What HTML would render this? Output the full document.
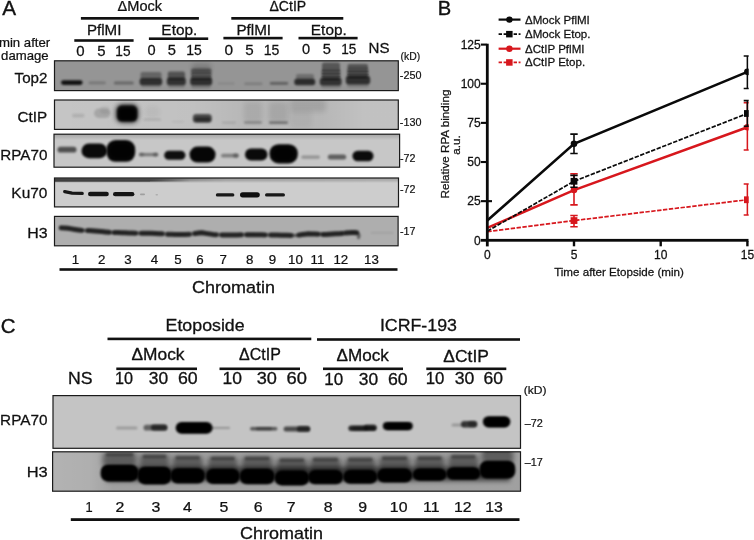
<!DOCTYPE html>
<html><head><meta charset="utf-8"><title>Figure</title>
<style>
html,body{margin:0;padding:0;background:#fff;}
body{width:754px;height:540px;overflow:hidden;font-family:"Liberation Sans", sans-serif;}
svg{display:block;font-family:"Liberation Sans", sans-serif;will-change:transform;}
text{stroke:#111;}
</style></head>
<body>
<svg width="754" height="540" viewBox="0 0 754 540">
<defs>
<filter id="b1" filterUnits="userSpaceOnUse" x="0" y="0" width="754" height="540"><feGaussianBlur stdDeviation="0.7"/></filter>
<filter id="b2" filterUnits="userSpaceOnUse" x="0" y="0" width="754" height="540"><feGaussianBlur stdDeviation="1.3"/></filter>
<filter id="b3" filterUnits="userSpaceOnUse" x="0" y="0" width="754" height="540"><feGaussianBlur stdDeviation="2.4"/></filter>
<linearGradient id="gTop" x1="0" y1="0" x2="0" y2="1"><stop offset="0" stop-color="#000" stop-opacity="0.35"/><stop offset="1" stop-color="#000" stop-opacity="0"/></linearGradient>
<linearGradient id="gKuH" x1="0" y1="0" x2="1" y2="0"><stop offset="0" stop-color="#000" stop-opacity="0.55"/><stop offset="0.3" stop-color="#000" stop-opacity="0.5"/><stop offset="0.5" stop-color="#000" stop-opacity="0.25"/><stop offset="1" stop-color="#000" stop-opacity="0.2"/></linearGradient>
<linearGradient id="gCt" x1="0" y1="0" x2="1" y2="0"><stop offset="0" stop-color="#000" stop-opacity="0"/><stop offset="0.4" stop-color="#000" stop-opacity="0.02"/><stop offset="0.55" stop-color="#000" stop-opacity="0.07"/><stop offset="0.78" stop-color="#000" stop-opacity="0.07"/><stop offset="0.9" stop-color="#000" stop-opacity="0.02"/><stop offset="1" stop-color="#000" stop-opacity="0.02"/></linearGradient>
<mask id="mKu"><rect x="54" y="178" width="346" height="5" fill="url(#gTopW)"/></mask>
<linearGradient id="gTopW" x1="0" y1="0" x2="0" y2="1"><stop offset="0" stop-color="#fff" stop-opacity="1"/><stop offset="0.5" stop-color="#fff" stop-opacity="0.7"/><stop offset="1" stop-color="#fff" stop-opacity="0"/></linearGradient>
<linearGradient id="gFade" x1="0" y1="0" x2="1" y2="0"><stop offset="0" stop-color="#000" stop-opacity="1"/><stop offset="1" stop-color="#000" stop-opacity="0"/></linearGradient>
<linearGradient id="gH3C" x1="0" y1="0" x2="1" y2="0"><stop offset="0" stop-color="#000" stop-opacity="0.03"/><stop offset="0.08" stop-color="#000" stop-opacity="0.05"/><stop offset="0.13" stop-color="#000" stop-opacity="0.13"/><stop offset="1" stop-color="#000" stop-opacity="0.13"/></linearGradient>
</defs>
<rect width="754" height="540" fill="#fff"/>
<text transform="translate(2.3,14.9) scale(1.0588,1)" font-size="19.6" stroke-width="0.353" fill="#111">A</text>
<text transform="translate(437.69,15.2) scale(1.0195,1)" font-size="19.8" stroke-width="0.356" fill="#111">B</text>
<text transform="translate(117.56,10.9) scale(1.0488,1)" font-size="13.9" stroke-width="0.25" fill="#111">&#916;Mock</text>
<rect x="80.9" y="17" width="118.0" height="2.7" fill="#111"/>
<text transform="translate(269.48,10.9) scale(1.0123,1)" font-size="13.9" stroke-width="0.25" fill="#111">&#916;CtIP</text>
<rect x="231.3" y="17" width="112.0" height="2.7" fill="#111"/>
<text transform="translate(86.89,35) scale(1.0597,1)" font-size="14.3" stroke-width="0.257" fill="#111">PflMI</text>
<rect x="74.3" y="39.2" width="59.3" height="2.6" fill="#111"/>
<text transform="translate(161.37,35) scale(1.0781,1)" font-size="14.3" stroke-width="0.257" fill="#111">Etop.</text>
<rect x="148.9" y="37.4" width="59.3" height="2.6" fill="#111"/>
<text transform="translate(236.38,35) scale(1.0664,1)" font-size="14.3" stroke-width="0.257" fill="#111">PflMI</text>
<rect x="223.4" y="36.8" width="59.2" height="2.6" fill="#111"/>
<text transform="translate(310.87,35) scale(1.0749,1)" font-size="14.3" stroke-width="0.257" fill="#111">Etop.</text>
<rect x="298.5" y="36.8" width="59.1" height="2.6" fill="#111"/>
<text transform="translate(76.2,56) scale(1.049,1)" font-size="14.3" stroke-width="0.257" fill="#111">0</text>
<text transform="translate(97.3,56) scale(1.0453,1)" font-size="14.3" stroke-width="0.257" fill="#111">5</text>
<text transform="translate(115.37,56) scale(0.9558,1)" font-size="14.3" stroke-width="0.257" fill="#111">15</text>
<text transform="translate(147.52,54.9) scale(1.0198,1)" font-size="14.3" stroke-width="0.257" fill="#111">0</text>
<text transform="translate(167.81,54.9) scale(1.0305,1)" font-size="14.3" stroke-width="0.257" fill="#111">5</text>
<text transform="translate(186.25,54.9) scale(0.9769,1)" font-size="14.3" stroke-width="0.257" fill="#111">15</text>
<text transform="translate(224.38,54.9) scale(1.0781,1)" font-size="14.3" stroke-width="0.257" fill="#111">0</text>
<text transform="translate(245.29,54.9) scale(1.06,1)" font-size="14.3" stroke-width="0.257" fill="#111">5</text>
<text transform="translate(263.64,54.9) scale(0.9839,1)" font-size="14.3" stroke-width="0.257" fill="#111">15</text>
<text transform="translate(301.92,53.8) scale(1.0198,1)" font-size="14.3" stroke-width="0.257" fill="#111">0</text>
<text transform="translate(322.81,53.8) scale(1.0305,1)" font-size="14.3" stroke-width="0.257" fill="#111">5</text>
<text transform="translate(341.28,53.8) scale(0.9488,1)" font-size="14.3" stroke-width="0.257" fill="#111">15</text>
<text transform="translate(368.59,53.4) scale(1.0545,1)" font-size="14.3" stroke-width="0.257" fill="#111">NS</text>
<text transform="translate(-1.06,46.7) scale(1.0149,1)" font-size="13" stroke-width="0.234" fill="#111">min after</text>
<text transform="translate(1.07,59.7) scale(1.0133,1)" font-size="13" stroke-width="0.234" fill="#111">damage</text>
<text transform="translate(400.57,60) scale(1.0024,1)" font-size="10.4" stroke-width="0.187" fill="#111">(kD)</text>
<text transform="translate(14.6,82.9) scale(1.0468,1)" font-size="14.5" stroke-width="0.261" fill="#111">Top2</text>
<text transform="translate(17.54,122) scale(1.0688,1)" font-size="14.3" stroke-width="0.257" fill="#111">CtIP</text>
<text transform="translate(0.28,160) scale(1.0654,1)" font-size="14.3" stroke-width="0.257" fill="#111">RPA70</text>
<text transform="translate(11.36,198.1) scale(1.0805,1)" font-size="14.3" stroke-width="0.257" fill="#111">Ku70</text>
<text transform="translate(27.23,238.2) scale(1.114,1)" font-size="14.3" stroke-width="0.257" fill="#111">H3</text>
<text transform="translate(399.81,79.2) scale(1.0621,1)" font-size="10.2" stroke-width="0.184" fill="#111">-250</text>
<text transform="translate(399.81,125.6) scale(1.0621,1)" font-size="10.2" stroke-width="0.184" fill="#111">-130</text>
<text transform="translate(400.02,161.8) scale(1.053,1)" font-size="10.2" stroke-width="0.184" fill="#111">-72</text>
<text transform="translate(400.02,193) scale(1.053,1)" font-size="10.2" stroke-width="0.184" fill="#111">-72</text>
<text transform="translate(400.02,234.8) scale(1.053,1)" font-size="10.2" stroke-width="0.184" fill="#111">-17</text>
<text x="75.4" y="263.7" font-size="13.3" stroke-width="0.239" text-anchor="middle" fill="#111" >1</text>
<text x="101.6" y="263.7" font-size="13.3" stroke-width="0.239" text-anchor="middle" fill="#111" >2</text>
<text x="128" y="263.7" font-size="13.3" stroke-width="0.239" text-anchor="middle" fill="#111" >3</text>
<text x="154.4" y="263.7" font-size="13.3" stroke-width="0.239" text-anchor="middle" fill="#111" >4</text>
<text x="178" y="263.7" font-size="13.3" stroke-width="0.239" text-anchor="middle" fill="#111" >5</text>
<text x="200" y="263.7" font-size="13.3" stroke-width="0.239" text-anchor="middle" fill="#111" >6</text>
<text x="223.3" y="263.7" font-size="13.3" stroke-width="0.239" text-anchor="middle" fill="#111" >7</text>
<text x="249.6" y="263.7" font-size="13.3" stroke-width="0.239" text-anchor="middle" fill="#111" >8</text>
<text x="272.5" y="263.7" font-size="13.3" stroke-width="0.239" text-anchor="middle" fill="#111" >9</text>
<text x="295.4" y="263.7" font-size="13.3" stroke-width="0.239" text-anchor="middle" fill="#111" >10</text>
<text x="317.5" y="263.7" font-size="13.3" stroke-width="0.239" text-anchor="middle" fill="#111" >11</text>
<text x="340.8" y="263.7" font-size="13.3" stroke-width="0.239" text-anchor="middle" fill="#111" >12</text>
<text x="371.5" y="263.7" font-size="13.3" stroke-width="0.239" text-anchor="middle" fill="#111" >13</text>
<rect x="59.5" y="268.2" width="338.0" height="2.6" fill="#111"/>
<text transform="translate(192.1,292.9) scale(1.0574,1)" font-size="17" stroke-width="0.306" fill="#111">Chromatin</text>
<clipPath id="cA1"><rect x="54.5" y="60.8" width="343.8" height="29.8"/></clipPath>
<rect x="54.5" y="60.8" width="343.8" height="29.8" fill="#959595"/>
<g clip-path="url(#cA1)">
<rect x="61" y="80.2" width="21.6" height="4.8" rx="2.4" fill="#000" opacity="0.88" filter="url(#b2)"/>
<rect x="88.6" y="81.6" width="17.2" height="2.6" rx="1.3" fill="#000" opacity="0.2" filter="url(#b2)"/>
<rect x="113.8" y="81.4" width="20.0" height="3.0" rx="1.5" fill="#000" opacity="0.3" filter="url(#b2)"/>
<rect x="140.5" y="72" width="21.0" height="8" rx="2" fill="#000" opacity="0.32" filter="url(#b2)"/>
<rect x="139.6" y="78.2" width="22.6" height="7.0" rx="2.6" fill="#000" opacity="0.68" filter="url(#b2)"/>
<rect x="141" y="84" width="20" height="3.5" rx="1.75" fill="#000" opacity="0.15" filter="url(#b2)"/>
<rect x="167.8" y="71.5" width="17.2" height="8.5" rx="2" fill="#000" opacity="0.45" filter="url(#b2)"/>
<rect x="166.8" y="77.8" width="19.0" height="7.4" rx="2.6" fill="#000" opacity="0.66" filter="url(#b2)"/>
<rect x="168" y="84" width="17" height="4" rx="2.0" fill="#000" opacity="0.15" filter="url(#b2)"/>
<rect x="192" y="63.5" width="19" height="8.5" rx="3" fill="#000" opacity="0.16" filter="url(#b3)"/>
<rect x="191" y="68.5" width="20.5" height="11.5" rx="2" fill="#000" opacity="0.44" filter="url(#b2)"/>
<rect x="192" y="72.6" width="19" height="1.2" rx="0.6" fill="#000" opacity="0.08" filter="url(#b1)"/>
<rect x="192" y="75.6" width="19" height="1.2" rx="0.6" fill="#000" opacity="0.08" filter="url(#b1)"/>
<rect x="190.2" y="77.8" width="22.0" height="7.4" rx="2.6" fill="#000" opacity="0.68" filter="url(#b2)"/>
<rect x="191" y="84" width="20" height="4.5" rx="2.25" fill="#000" opacity="0.18" filter="url(#b2)"/>
<rect x="218" y="82.6" width="16.5" height="2.0" rx="1.0" fill="#000" opacity="0.1" filter="url(#b2)"/>
<rect x="244.2" y="82.6" width="18.3" height="2.4" rx="1.2" fill="#000" opacity="0.16" filter="url(#b2)"/>
<rect x="269.8" y="82" width="18.4" height="2.8" rx="1.4" fill="#000" opacity="0.36" filter="url(#b2)"/>
<rect x="296" y="74" width="18" height="6" rx="2" fill="#000" opacity="0.25" filter="url(#b2)"/>
<rect x="294.3" y="78.8" width="20.9" height="6.4" rx="2.6" fill="#000" opacity="0.7" filter="url(#b2)"/>
<rect x="322" y="62.5" width="18" height="17.5" rx="2" fill="#000" opacity="0.42" filter="url(#b2)"/>
<rect x="321" y="69" width="20" height="11" rx="2" fill="#000" opacity="0.16" filter="url(#b2)"/>
<rect x="322" y="69.6" width="18.4" height="1.2" rx="0.6" fill="#000" opacity="0.08" filter="url(#b1)"/>
<rect x="321.6" y="73" width="19.0" height="1.2" rx="0.6" fill="#000" opacity="0.08" filter="url(#b1)"/>
<rect x="321.4" y="76" width="19.4" height="1.2" rx="0.6" fill="#000" opacity="0.08" filter="url(#b1)"/>
<rect x="319.8" y="78" width="21.8" height="7.4" rx="2.6" fill="#000" opacity="0.66" filter="url(#b2)"/>
<rect x="321" y="84" width="20" height="4.5" rx="2.25" fill="#000" opacity="0.15" filter="url(#b2)"/>
<rect x="347.5" y="64" width="20.5" height="14" rx="2" fill="#000" opacity="0.44" filter="url(#b2)"/>
<rect x="346.8" y="68.5" width="22.2" height="9.5" rx="2" fill="#000" opacity="0.16" filter="url(#b2)"/>
<rect x="348" y="67.4" width="20" height="1.2" rx="0.6" fill="#000" opacity="0.08" filter="url(#b1)"/>
<rect x="347.4" y="70.8" width="21.2" height="1.2" rx="0.6" fill="#000" opacity="0.08" filter="url(#b1)"/>
<rect x="347" y="73.8" width="22" height="1.2" rx="0.6" fill="#000" opacity="0.08" filter="url(#b1)"/>
<rect x="345.8" y="76" width="24.4" height="8.4" rx="2.8" fill="#000" opacity="0.68" filter="url(#b2)"/>
<rect x="347" y="83.5" width="22" height="4.0" rx="2.0" fill="#000" opacity="0.15" filter="url(#b2)"/>

</g>
<rect x="54.5" y="60.8" width="343.8" height="29.8" fill="none" stroke="#1a1a1a" stroke-width="1.2"/>
<clipPath id="cA2"><rect x="54.5" y="100" width="343.8" height="29.4"/></clipPath>
<rect x="54.5" y="100" width="343.8" height="29.4" fill="#c5c5c5"/>
<g clip-path="url(#cA2)"><rect x="54" y="100" width="345" height="30" fill="url(#gCt)"/>
<rect x="72" y="113.8" width="12.5" height="3.6" rx="1.8" fill="#000" opacity="0.1" filter="url(#b2)"/>
<rect x="94" y="108.5" width="16.5" height="9.5" rx="4.75" fill="#000" opacity="0.15" filter="url(#b2)"/>
<rect x="100" y="106" width="10" height="8" rx="4.0" fill="#000" opacity="0.06" filter="url(#b2)"/>
<rect x="116" y="104.6" width="22.2" height="18.0" rx="6" fill="#000" opacity="0.8" filter="url(#b3)"/>
<rect x="117.2" y="105.6" width="20.0" height="16.0" rx="5" fill="#000" opacity="0.8" filter="url(#b2)"/>
<rect x="119" y="108.5" width="16.5" height="11.5" rx="4" fill="#000" opacity="0.8" filter="url(#b2)"/>
<rect x="143.5" y="118.8" width="17.5" height="1.8" rx="0.9" fill="#000" opacity="0.13" filter="url(#b2)"/>
<rect x="145" y="106" width="15" height="12" rx="6.0" fill="#000" opacity="0.04" filter="url(#b3)"/>
<rect x="172" y="121" width="12" height="1.4" rx="0.7" fill="#000" opacity="0.06" filter="url(#b2)"/>
<rect x="192.8" y="114" width="19.0" height="8.8" rx="3.5" fill="#000" opacity="0.6" filter="url(#b2)"/>
<rect x="194.5" y="117.2" width="16.0" height="4.4" rx="2.2" fill="#000" opacity="0.45" filter="url(#b2)"/>
<rect x="222" y="121.8" width="14" height="1.6" rx="0.8" fill="#000" opacity="0.12" filter="url(#b2)"/>
<rect x="244" y="121.6" width="18" height="2.0" rx="1.0" fill="#000" opacity="0.3" filter="url(#b2)"/>
<rect x="244" y="102" width="18" height="20" rx="3" fill="#000" opacity="0.07" filter="url(#b3)"/>
<rect x="269" y="121.4" width="19" height="2.4" rx="1.2" fill="#000" opacity="0.42" filter="url(#b2)"/>
<rect x="269" y="102" width="19" height="20" rx="3" fill="#000" opacity="0.09" filter="url(#b3)"/>
<rect x="290" y="99" width="36" height="13" rx="4" fill="#000" opacity="0.1" filter="url(#b3)"/>
<rect x="290" y="110" width="22" height="18" rx="4" fill="#000" opacity="0.04" filter="url(#b3)"/>

</g>
<rect x="54.5" y="100" width="343.8" height="29.4" fill="none" stroke="#1a1a1a" stroke-width="1.2"/>
<clipPath id="cA3"><rect x="54" y="134.2" width="345.6" height="33"/></clipPath>
<rect x="54" y="134.2" width="345.6" height="33" fill="#c7c7c7"/>
<g clip-path="url(#cA3)"><rect x="54" y="134" width="346" height="6" fill="url(#gTop)" opacity="0.5"/>
<rect x="57.5" y="146.8" width="19.0" height="5.8" rx="2.9" fill="#000" opacity="0.6" filter="url(#b2)"/>
<rect x="81.5" y="143.6" width="25.7" height="14.6" rx="7.3" fill="#000" opacity="0.95" filter="url(#b2)"/>
<rect x="106.5" y="140" width="28.7" height="21.8" rx="9" fill="#000" opacity="0.97" filter="url(#b2)"/>
<rect x="110" y="144" width="22" height="14" rx="6" fill="#000" opacity="0.6" filter="url(#b2)"/>
<rect x="139" y="153" width="19" height="3.2" rx="1.6" fill="#000" opacity="0.38" filter="url(#b2)"/>
<rect x="139" y="152.4" width="5" height="4.2" rx="2.1" fill="#000" opacity="0.2" filter="url(#b2)"/>
<rect x="153" y="152.6" width="5.4" height="4.2" rx="2.1" fill="#000" opacity="0.25" filter="url(#b2)"/>
<rect x="164.2" y="150.8" width="21.2" height="9.0" rx="4.5" fill="#000" opacity="0.92" filter="url(#b2)"/>
<rect x="189.5" y="146.6" width="26.1" height="16.0" rx="8.0" fill="#000" opacity="0.97" filter="url(#b2)"/>
<rect x="221" y="153.8" width="17.6" height="3.8" rx="1.9" fill="#000" opacity="0.36" filter="url(#b2)"/>
<rect x="233" y="153.2" width="5.8" height="4.8" rx="2.4" fill="#000" opacity="0.25" filter="url(#b2)"/>
<rect x="245" y="148.6" width="22.5" height="11.8" rx="5.9" fill="#000" opacity="0.95" filter="url(#b2)"/>
<rect x="269.5" y="144.2" width="28.3" height="19.2" rx="9" fill="#000" opacity="0.97" filter="url(#b2)"/>
<rect x="273" y="148" width="21" height="12" rx="6" fill="#000" opacity="0.6" filter="url(#b2)"/>
<rect x="301.2" y="155.4" width="18.8" height="3.4" rx="1.7" fill="#000" opacity="0.26" filter="url(#b2)"/>
<rect x="327.8" y="154.6" width="18.4" height="5.0" rx="2.5" fill="#000" opacity="0.52" filter="url(#b2)"/>
<rect x="352.4" y="150.8" width="21.1" height="10.4" rx="5.2" fill="#000" opacity="0.94" filter="url(#b2)"/>

</g>
<rect x="54" y="134.2" width="345.6" height="33" fill="none" stroke="#1a1a1a" stroke-width="1.2"/>
<clipPath id="cA4"><rect x="54.5" y="178" width="344" height="28.9"/></clipPath>
<rect x="54.5" y="178" width="344" height="28.9" fill="#cdcdcd"/>
<g clip-path="url(#cA4)"><rect x="54" y="178" width="346" height="5" fill="url(#gKuH)" mask="url(#mKu)"/><rect x="40" y="179.2" width="110" height="2.6" fill="#000" opacity="0.5" filter="url(#b1)"/><rect x="150" y="179.2" width="40" height="2.4" fill="url(#gFade)" opacity="0.5" filter="url(#b1)"/>
<rect x="88" y="191.8" width="20.8" height="4.4" rx="2.2" fill="#000" opacity="0.9" filter="url(#b1)"/>
<rect x="113" y="192.1" width="21.4" height="4.2" rx="2.1" fill="#000" opacity="0.9" filter="url(#b1)"/>
<rect x="140" y="193.5" width="5" height="1.7" rx="0.85" fill="#000" opacity="0.22" filter="url(#b1)"/>
<rect x="155.5" y="194" width="2.5" height="1.4" rx="0.7" fill="#000" opacity="0.15" filter="url(#b1)"/>
<rect x="215.8" y="193.3" width="18.6" height="3.3" rx="1.65" fill="#000" opacity="0.88" filter="url(#b1)"/>
<rect x="240" y="192.2" width="19.8" height="5.2" rx="2.6" fill="#000" opacity="0.93" filter="url(#b1)"/>
<rect x="265" y="193.2" width="20" height="3.4" rx="1.7" fill="#000" opacity="0.88" filter="url(#b1)"/>
<path d="M64.7,191.7 L72,193.2 L82.2,193.4" fill="none" stroke="#000" stroke-width="3.3" stroke-linecap="round" opacity="0.88" filter="url(#b1)"/>
</g>
<rect x="54.5" y="178" width="344" height="28.9" fill="none" stroke="#1a1a1a" stroke-width="1.2"/>
<clipPath id="cA5"><rect x="54.5" y="216.4" width="343.6" height="29.4"/></clipPath>
<rect x="54.5" y="216.4" width="343.6" height="29.4" fill="#aeaeae"/>
<g clip-path="url(#cA5)">
<path d="M60.5,227.8 L68,228.3 L76,229.6 L83,230.6 L90,230.6 L100,231.4 L110,232.4 L118,232.5 L128,233 L138,233.2 L148,233.2 L158,233.6 L168,234.2 L180,234.5 L190,234.3 L196,233.4 L201,232.6 L207,233.6 L214,234.6 L224,235 L236,235 L248,234.6 L260,234.8 L272,235 L284,235.2 L296,235.6 L302,234.6 L308,233.8 L316,234 L324,234.6 L332,234 L340,233.6 L348,232.8 L354,232.4 L357.6,233 L359,235 L358.6,237.6" fill="none" stroke="#000" stroke-width="3" stroke-linecap="round" stroke-linejoin="round" opacity="0.5" filter="url(#b2)"/><path d="M61.5,227.87 L64.8,228.09 L68.2,228.33 L71.5,228.87 L74.8,229.41 L78.2,229.91 L81.5,230.39" fill="none" stroke="#000" stroke-width="5" stroke-linecap="round" stroke-linejoin="round" opacity="0.66" filter="url(#b2)"/><path d="M88.0,230.6 L91.5,230.72 L95.0,231.0 L98.5,231.28 L102.0,231.6 L105.5,231.95 L109.0,232.3" fill="none" stroke="#000" stroke-width="5" stroke-linecap="round" stroke-linejoin="round" opacity="0.66" filter="url(#b2)"/><path d="M114.5,232.46 L118.0,232.5 L121.5,232.68 L125.0,232.85 L128.5,233.01 L132.0,233.08 L135.5,233.15" fill="none" stroke="#000" stroke-width="5" stroke-linecap="round" stroke-linejoin="round" opacity="0.66" filter="url(#b2)"/><path d="M141.5,233.2 L144.9,233.2 L148.3,233.21 L151.8,233.35 L155.2,233.49 L158.6,233.63 L162.0,233.84" fill="none" stroke="#000" stroke-width="5" stroke-linecap="round" stroke-linejoin="round" opacity="0.66" filter="url(#b2)"/><path d="M168.0,234.2 L171.5,234.29 L175.0,234.38 L178.5,234.46 L182.0,234.46 L185.5,234.39 L189.0,234.32" fill="none" stroke="#000" stroke-width="5" stroke-linecap="round" stroke-linejoin="round" opacity="0.66" filter="url(#b2)"/><path d="M195.0,233.55 L198.5,233.0 L202.0,232.77 L205.5,233.35 L209.0,233.89 L212.5,234.39 L216.0,234.68" fill="none" stroke="#000" stroke-width="5" stroke-linecap="round" stroke-linejoin="round" opacity="0.66" filter="url(#b2)"/><path d="M222.0,234.92 L225.2,235.0 L228.3,235.0 L231.5,235.0 L234.7,235.0 L237.8,234.94 L241.0,234.83" fill="none" stroke="#000" stroke-width="5" stroke-linecap="round" stroke-linejoin="round" opacity="0.66" filter="url(#b2)"/><path d="M247.0,234.63 L250.0,234.63 L253.0,234.68 L256.0,234.73 L259.0,234.78 L262.0,234.83 L265.0,234.88" fill="none" stroke="#000" stroke-width="5" stroke-linecap="round" stroke-linejoin="round" opacity="0.66" filter="url(#b2)"/><path d="M271.0,234.98 L274.3,235.04 L277.7,235.09 L281.0,235.15 L284.3,235.21 L287.7,235.32 L291.0,235.43" fill="none" stroke="#000" stroke-width="5" stroke-linecap="round" stroke-linejoin="round" opacity="0.66" filter="url(#b2)"/><path d="M299.0,235.1 L302.2,234.58 L305.3,234.16 L308.5,233.81 L311.7,233.89 L314.8,233.97 L318.0,234.15" fill="none" stroke="#000" stroke-width="5" stroke-linecap="round" stroke-linejoin="round" opacity="0.66" filter="url(#b2)"/><path d="M323.0,234.53 L326.2,234.44 L329.3,234.2 L332.5,233.97 L335.7,233.82 L338.8,233.66 L342.0,233.4" fill="none" stroke="#000" stroke-width="5" stroke-linecap="round" stroke-linejoin="round" opacity="0.66" filter="url(#b2)"/><path d="M346.0,233.0 L347.8,232.83 L349.5,232.7 L351.2,232.58 L353.0,232.47 L354.8,232.53 L356.5,232.82" fill="none" stroke="#000" stroke-width="5" stroke-linecap="round" stroke-linejoin="round" opacity="0.66" filter="url(#b2)"/><rect x="371" y="232" width="22" height="1.6" fill="#000" opacity="0.08" filter="url(#b2)"/>
</g>
<rect x="54.5" y="216.4" width="343.6" height="29.4" fill="none" stroke="#1a1a1a" stroke-width="1.2"/>
<text transform="translate(0.78,333.3) scale(1.034,1)" font-size="19.8" stroke-width="0.356" fill="#111">C</text>
<text transform="translate(165.58,331.2) scale(1.071,1)" font-size="16.6" stroke-width="0.299" fill="#111">Etoposide</text>
<rect x="107.5" y="337.6" width="203.8" height="2.6" fill="#111"/>
<text transform="translate(379.9,330.8) scale(1.0716,1)" font-size="16.6" stroke-width="0.299" fill="#111">ICRF-193</text>
<rect x="317" y="338.2" width="203" height="2.6" fill="#111"/>
<text transform="translate(131.48,360) scale(1.0713,1)" font-size="16.2" stroke-width="0.292" fill="#111">&#916;Mock</text>
<rect x="116.3" y="367.5" width="80.7" height="2.6" fill="#111"/>
<text transform="translate(239.02,360.4) scale(0.9881,1)" font-size="16.2" stroke-width="0.292" fill="#111">&#916;CtIP</text>
<rect x="219.5" y="367.5" width="80.5" height="2.6" fill="#111"/>
<text transform="translate(336.49,360.9) scale(1.057,1)" font-size="16.2" stroke-width="0.292" fill="#111">&#916;Mock</text>
<rect x="323" y="367.5" width="80" height="2.6" fill="#111"/>
<text transform="translate(443.28,362.4) scale(1.0784,1)" font-size="16.2" stroke-width="0.292" fill="#111">&#916;CtIP</text>
<rect x="426.3" y="367.5" width="80.0" height="2.6" fill="#111"/>
<text transform="translate(67.88,384.3) scale(1.0662,1)" font-size="16.6" stroke-width="0.299" fill="#111">NS</text>
<text transform="translate(115.08,384.3) scale(0.9818,1)" font-size="16.5" stroke-width="0.297" fill="#111">10</text>
<text transform="translate(148.8,384.3) scale(1.054,1)" font-size="16.5" stroke-width="0.297" fill="#111">30</text>
<text transform="translate(177.91,384.3) scale(1.0761,1)" font-size="16.5" stroke-width="0.297" fill="#111">60</text>
<text transform="translate(222.49,384.3) scale(1.0606,1)" font-size="16.5" stroke-width="0.297" fill="#111">10</text>
<text transform="translate(256.77,384.3) scale(1.1009,1)" font-size="16.5" stroke-width="0.297" fill="#111">30</text>
<text transform="translate(286.58,384.3) scale(1.1116,1)" font-size="16.5" stroke-width="0.297" fill="#111">60</text>
<text transform="translate(324.23,384.5) scale(1.0303,1)" font-size="16.5" stroke-width="0.297" fill="#111">10</text>
<text transform="translate(358.8,384.5) scale(1.054,1)" font-size="16.5" stroke-width="0.297" fill="#111">30</text>
<text transform="translate(387.91,384.5) scale(1.0761,1)" font-size="16.5" stroke-width="0.297" fill="#111">60</text>
<text transform="translate(425.74,384.3) scale(1.0182,1)" font-size="16.5" stroke-width="0.297" fill="#111">10</text>
<text transform="translate(454.79,384.3) scale(1.0716,1)" font-size="16.5" stroke-width="0.297" fill="#111">30</text>
<text transform="translate(483.62,384.3) scale(1.0643,1)" font-size="16.5" stroke-width="0.297" fill="#111">60</text>
<text transform="translate(523.78,393.8) scale(1.0315,1)" font-size="11.7" stroke-width="0.211" fill="#111">(kD)</text>
<text transform="translate(0.07,425) scale(1.065,1)" font-size="14.4" stroke-width="0.259" fill="#111">RPA70</text>
<text transform="translate(26.68,477.4) scale(1.1424,1)" font-size="14.4" stroke-width="0.259" fill="#111">H3</text>
<text transform="translate(524.7,427) scale(1.0091,1)" font-size="10.8" stroke-width="0.194" fill="#111">&#8211;72</text>
<text transform="translate(524.7,466.2) scale(1.0091,1)" font-size="10.8" stroke-width="0.194" fill="#111">&#8211;17</text>
<text transform="translate(85.43,512) scale(0.9329,1)" font-size="13.8" stroke-width="0.248" fill="#111">1</text>
<text transform="translate(115.6,512) scale(1.15,1)" font-size="13.8" stroke-width="0.248" fill="#111">2</text>
<text transform="translate(151.6,512) scale(1.15,1)" font-size="13.8" stroke-width="0.248" fill="#111">3</text>
<text transform="translate(182.93,512) scale(1.15,1)" font-size="13.8" stroke-width="0.248" fill="#111">4</text>
<text transform="translate(219.6,512) scale(1.15,1)" font-size="13.8" stroke-width="0.248" fill="#111">5</text>
<text transform="translate(253.77,512) scale(1.15,1)" font-size="13.8" stroke-width="0.248" fill="#111">6</text>
<text transform="translate(286.85,512) scale(1.15,1)" font-size="13.8" stroke-width="0.248" fill="#111">7</text>
<text transform="translate(323.81,512) scale(1.15,1)" font-size="13.8" stroke-width="0.248" fill="#111">8</text>
<text transform="translate(358.35,512) scale(1.15,1)" font-size="13.8" stroke-width="0.248" fill="#111">9</text>
<text transform="translate(389.87,512) scale(1.15,1)" font-size="13.8" stroke-width="0.248" fill="#111">10</text>
<text transform="translate(423.05,512) scale(1.15,1)" font-size="13.8" stroke-width="0.248" fill="#111">11</text>
<text transform="translate(453.99,512) scale(1.15,1)" font-size="13.8" stroke-width="0.248" fill="#111">12</text>
<text transform="translate(485.16,512) scale(1.15,1)" font-size="13.8" stroke-width="0.248" fill="#111">13</text>
<rect x="70.8" y="518.2" width="448.7" height="2.8" fill="#111"/>
<text transform="translate(240.1,539) scale(1.07,1)" font-size="16.8" stroke-width="0.302" fill="#111">Chromatin</text>
<clipPath id="cC1"><rect x="53" y="395.6" width="467.5" height="52.7"/></clipPath>
<rect x="53" y="395.6" width="467.5" height="52.7" fill="#c4c4c4"/>
<g clip-path="url(#cC1)">
<rect x="116" y="426.4" width="21.5" height="3.0" rx="1.5" fill="#000" opacity="0.2" filter="url(#b2)"/>
<rect x="143.5" y="424.8" width="23.9" height="5.8" rx="2.9" fill="#000" opacity="0.5" filter="url(#b2)"/>
<rect x="151" y="424.6" width="16.2" height="6.0" rx="3.0" fill="#000" opacity="0.6" filter="url(#b2)"/>
<rect x="175.6" y="422" width="37.0" height="11.8" rx="5.9" fill="#000" opacity="0.98" filter="url(#b2)"/>
<rect x="179" y="424" width="30" height="8" rx="4.0" fill="#000" opacity="0.9" filter="url(#b2)"/>
<rect x="208" y="427" width="22" height="1.8" rx="0.9" fill="#000" opacity="0.28" filter="url(#b2)"/>
<rect x="250" y="427" width="27.4" height="3.4" rx="1.7" fill="#000" opacity="0.55" filter="url(#b2)"/>
<rect x="256" y="427.2" width="16" height="3.0" rx="1.5" fill="#000" opacity="0.3" filter="url(#b2)"/>
<rect x="283.6" y="426.6" width="26.4" height="5.0" rx="2.5" fill="#000" opacity="0.62" filter="url(#b2)"/>
<rect x="297" y="426" width="13.2" height="5.8" rx="2.9" fill="#000" opacity="0.55" filter="url(#b2)"/>
<rect x="348.4" y="425.4" width="28.0" height="5.6" rx="2.8" fill="#000" opacity="0.8" filter="url(#b2)"/>
<rect x="364" y="424.6" width="12.6" height="5.2" rx="2.6" fill="#000" opacity="0.5" filter="url(#b2)"/>
<rect x="352" y="426.6" width="16" height="4.0" rx="2.0" fill="#000" opacity="0.3" filter="url(#b2)"/>
<rect x="382.8" y="422" width="30.0" height="8.2" rx="4.1" fill="#000" opacity="0.96" filter="url(#b2)"/>
<rect x="386" y="423.2" width="24" height="5.8" rx="2.9" fill="#000" opacity="0.8" filter="url(#b2)"/>
<rect x="451.5" y="423.4" width="14.5" height="3.2" rx="1.6" fill="#000" opacity="0.22" filter="url(#b2)"/>
<rect x="461" y="421" width="16.2" height="6.4" rx="3.2" fill="#000" opacity="0.7" filter="url(#b2)"/>
<rect x="468" y="421" width="9" height="6" rx="3.0" fill="#000" opacity="0.3" filter="url(#b2)"/>
<rect x="482.8" y="416.2" width="27.6" height="11.2" rx="5.6" fill="#000" opacity="0.98" filter="url(#b2)"/>
<rect x="486" y="418" width="22" height="8" rx="4.0" fill="#000" opacity="0.9" filter="url(#b2)"/>

</g>
<rect x="53" y="395.6" width="467.5" height="52.7" fill="none" stroke="#1a1a1a" stroke-width="1.2"/>
<clipPath id="cC2"><rect x="52.6" y="451.8" width="467.9" height="39.4"/></clipPath>
<rect x="52.6" y="451.8" width="467.9" height="39.4" fill="#b8b8b8"/>
<g clip-path="url(#cC2)"><rect x="52" y="451" width="470" height="41" fill="url(#gH3C)"/><rect x="106" y="467" width="404" height="14" fill="#000" opacity="0.6" filter="url(#b3)"/>
<rect x="102.5" y="452.8" width="34.0" height="15.0" rx="3" fill="#000" opacity="0.42" filter="url(#b3)"/>
<rect x="105.5" y="452.40000000000003" width="28.0" height="3.8" rx="1.9" fill="#000" opacity="0.36" filter="url(#b2)"/>
<rect x="100.6" y="464.8" width="37.8" height="16.6" rx="7" fill="#000" opacity="0.97" filter="url(#b2)"/>
<rect x="103.0" y="466.3" width="33.0" height="13.1" rx="5.5" fill="#000" opacity="0.95" filter="url(#b2)"/>
<rect x="139.6" y="454.8" width="29.8" height="15.0" rx="3" fill="#000" opacity="0.42" filter="url(#b3)"/>
<rect x="142.6" y="454.40000000000003" width="23.8" height="3.8" rx="1.9" fill="#000" opacity="0.36" filter="url(#b2)"/>
<rect x="137.7" y="466.8" width="33.6" height="17.6" rx="7" fill="#000" opacity="0.97" filter="url(#b2)"/>
<rect x="140.1" y="468.3" width="28.8" height="14.1" rx="5.5" fill="#000" opacity="0.95" filter="url(#b2)"/>
<rect x="172.4" y="456.2" width="30.6" height="15.0" rx="3" fill="#000" opacity="0.42" filter="url(#b3)"/>
<rect x="175.4" y="455.8" width="24.6" height="3.8" rx="1.9" fill="#000" opacity="0.36" filter="url(#b2)"/>
<rect x="170.5" y="468.2" width="34.4" height="15.4" rx="7" fill="#000" opacity="0.97" filter="url(#b2)"/>
<rect x="172.9" y="469.7" width="29.6" height="11.9" rx="5.5" fill="#000" opacity="0.95" filter="url(#b2)"/>
<rect x="207.8" y="456.8" width="30.0" height="15.0" rx="3" fill="#000" opacity="0.42" filter="url(#b3)"/>
<rect x="210.8" y="456.40000000000003" width="24.0" height="3.8" rx="1.9" fill="#000" opacity="0.36" filter="url(#b2)"/>
<rect x="205.9" y="468.8" width="33.8" height="15.2" rx="7" fill="#000" opacity="0.97" filter="url(#b2)"/>
<rect x="208.3" y="470.3" width="29.0" height="11.7" rx="5.5" fill="#000" opacity="0.95" filter="url(#b2)"/>
<rect x="241.6" y="456.8" width="31.0" height="15.0" rx="3" fill="#000" opacity="0.42" filter="url(#b3)"/>
<rect x="244.6" y="456.40000000000003" width="25.0" height="3.8" rx="1.9" fill="#000" opacity="0.36" filter="url(#b2)"/>
<rect x="239.7" y="468.8" width="34.8" height="15.4" rx="7" fill="#000" opacity="0.97" filter="url(#b2)"/>
<rect x="242.1" y="470.3" width="30.0" height="11.9" rx="5.5" fill="#000" opacity="0.95" filter="url(#b2)"/>
<rect x="276.4" y="458.6" width="31.0" height="15.0" rx="3" fill="#000" opacity="0.42" filter="url(#b3)"/>
<rect x="279.4" y="458.20000000000005" width="25.0" height="3.8" rx="1.9" fill="#000" opacity="0.36" filter="url(#b2)"/>
<rect x="274.5" y="470.6" width="34.8" height="14.8" rx="7" fill="#000" opacity="0.97" filter="url(#b2)"/>
<rect x="276.9" y="472.1" width="30.0" height="11.3" rx="5.5" fill="#000" opacity="0.95" filter="url(#b2)"/>
<rect x="309.8" y="458" width="31.4" height="15" rx="3" fill="#000" opacity="0.42" filter="url(#b3)"/>
<rect x="312.8" y="457.6" width="25.4" height="3.8" rx="1.9" fill="#000" opacity="0.36" filter="url(#b2)"/>
<rect x="307.90000000000003" y="470" width="35.2" height="14.2" rx="7" fill="#000" opacity="0.97" filter="url(#b2)"/>
<rect x="310.3" y="471.5" width="30.4" height="10.7" rx="5.5" fill="#000" opacity="0.95" filter="url(#b2)"/>
<rect x="345" y="458" width="30.6" height="15" rx="3" fill="#000" opacity="0.42" filter="url(#b3)"/>
<rect x="348" y="457.6" width="24.6" height="3.8" rx="1.9" fill="#000" opacity="0.36" filter="url(#b2)"/>
<rect x="343.1" y="470" width="34.4" height="13.8" rx="7" fill="#000" opacity="0.97" filter="url(#b2)"/>
<rect x="345.5" y="471.5" width="29.6" height="10.3" rx="5.5" fill="#000" opacity="0.95" filter="url(#b2)"/>
<rect x="378.8" y="456.6" width="31.6" height="15.0" rx="3" fill="#000" opacity="0.42" filter="url(#b3)"/>
<rect x="381.8" y="456.20000000000005" width="25.6" height="3.8" rx="1.9" fill="#000" opacity="0.36" filter="url(#b2)"/>
<rect x="376.90000000000003" y="468.6" width="35.4" height="14.0" rx="7" fill="#000" opacity="0.97" filter="url(#b2)"/>
<rect x="379.3" y="470.1" width="30.6" height="10.5" rx="5.5" fill="#000" opacity="0.95" filter="url(#b2)"/>
<rect x="414.4" y="456.6" width="30.4" height="15.0" rx="3" fill="#000" opacity="0.42" filter="url(#b3)"/>
<rect x="417.4" y="456.20000000000005" width="24.4" height="3.8" rx="1.9" fill="#000" opacity="0.36" filter="url(#b2)"/>
<rect x="412.5" y="468.6" width="34.2" height="12.2" rx="7" fill="#000" opacity="0.97" filter="url(#b2)"/>
<rect x="414.9" y="470.1" width="29.4" height="8.7" rx="5.5" fill="#000" opacity="0.95" filter="url(#b2)"/>
<rect x="448.2" y="455.2" width="30.4" height="15.0" rx="3" fill="#000" opacity="0.42" filter="url(#b3)"/>
<rect x="451.2" y="454.8" width="24.4" height="3.8" rx="1.9" fill="#000" opacity="0.36" filter="url(#b2)"/>
<rect x="446.3" y="467.2" width="34.2" height="12.6" rx="7" fill="#000" opacity="0.97" filter="url(#b2)"/>
<rect x="448.7" y="468.7" width="29.4" height="9.1" rx="5.5" fill="#000" opacity="0.95" filter="url(#b2)"/>
<rect x="481.6" y="448.8" width="31.8" height="15.0" rx="3" fill="#000" opacity="0.42" filter="url(#b3)"/>
<rect x="484.6" y="448.40000000000003" width="25.8" height="3.8" rx="1.9" fill="#000" opacity="0.36" filter="url(#b2)"/>
<rect x="479.70000000000005" y="460.8" width="35.6" height="17.8" rx="7" fill="#000" opacity="0.97" filter="url(#b2)"/>
<rect x="482.1" y="462.3" width="30.8" height="14.3" rx="5.5" fill="#000" opacity="0.95" filter="url(#b2)"/>

</g>
<rect x="52.6" y="451.8" width="467.9" height="39.4" fill="none" stroke="#1a1a1a" stroke-width="1.2"/>
<clipPath id="cpB"><rect x="486" y="30" width="262.7" height="215"/></clipPath>
<g clip-path="url(#cpB)">
<path d="M570.3,215.56 H577.7 M574.0,215.56 V226.68 M570.3,226.68 H577.7" stroke="#d7171d" stroke-width="1.6" fill="none"/>
<path d="M743.6999999999999,183.94 H751.1 M747.4,183.94 V214.94 M743.6999999999999,214.94 H751.1" stroke="#d7171d" stroke-width="1.6" fill="none"/>
<path d="M487.3,231.69 L574.0,220.57 L747.4,199.75" stroke="#d7171d" stroke-width="1.7" fill="none" stroke-dasharray="4.4,1.5"/>
<rect x="570.6" y="217.17" width="6.8" height="6.8" fill="#d7171d"/>
<rect x="744.0" y="196.35" width="6.8" height="6.8" fill="#d7171d"/>
<path d="M570.3,173.76 H577.7 M574.0,173.76 V204.92 M570.3,204.92 H577.7" stroke="#d7171d" stroke-width="1.6" fill="none"/>
<path d="M743.6999999999999,102.68 H751.1 M747.4,102.68 V149.96 M743.6999999999999,149.96 H751.1" stroke="#d7171d" stroke-width="1.6" fill="none"/>
<path d="M487.3,227.93 L574.0,190.04 L747.4,127.26" stroke="#d7171d" stroke-width="2.5" fill="none"/>
<circle cx="574.0" cy="190.04" r="3.3" fill="#d7171d"/>
<circle cx="747.4" cy="127.26" r="3.3" fill="#d7171d"/>
<path d="M570.3,175.33 H577.7 M574.0,175.33 V187.23 M570.3,187.23 H577.7" stroke="#0a0a0a" stroke-width="1.6" fill="none"/>
<path d="M743.6999999999999,100.65 H751.1 M747.4,100.65 V126.32 M743.6999999999999,126.32 H751.1" stroke="#0a0a0a" stroke-width="1.6" fill="none"/>
<path d="M487.3,231.22 L574.0,181.28 L747.4,113.49" stroke="#0a0a0a" stroke-width="1.7" fill="none" stroke-dasharray="4.4,1.5"/>
<rect x="570.6" y="177.88" width="6.8" height="6.8" fill="#0a0a0a"/>
<rect x="744.0" y="110.08999999999999" width="6.8" height="6.8" fill="#0a0a0a"/>
<path d="M570.3,134.15 H577.7 M574.0,134.15 V153.57 M570.3,153.57 H577.7" stroke="#0a0a0a" stroke-width="1.6" fill="none"/>
<path d="M743.6999999999999,56.03 H751.1 M747.4,56.03 V88.44 M743.6999999999999,88.44 H751.1" stroke="#0a0a0a" stroke-width="1.6" fill="none"/>
<path d="M487.3,220.57 L574.0,143.86 L747.4,71.84" stroke="#0a0a0a" stroke-width="2.6" fill="none"/>
<circle cx="574.0" cy="143.86" r="3.3" fill="#0a0a0a"/>
<circle cx="747.4" cy="71.84" r="3.3" fill="#0a0a0a"/>
</g>
<rect x="485.9" y="43.7" width="2.8" height="202.7" fill="#0a0a0a"/>
<rect x="480.8" y="238.9" width="267.7" height="2.8" fill="#0a0a0a"/>
<rect x="480.8" y="200.11" width="11.2" height="2.1" fill="#0a0a0a"/>
<rect x="480.8" y="160.97" width="5.8" height="2.1" fill="#0a0a0a"/>
<rect x="480.8" y="121.83" width="5.8" height="2.1" fill="#0a0a0a"/>
<rect x="480.8" y="82.69" width="5.8" height="2.1" fill="#0a0a0a"/>
<rect x="480.8" y="43.55" width="5.8" height="2.1" fill="#0a0a0a"/>
<rect x="572.8" y="241" width="2.4" height="5.3" fill="#0a0a0a"/>
<rect x="659.5" y="241" width="2.4" height="5.3" fill="#0a0a0a"/>
<rect x="746.2" y="241" width="2.4" height="5.3" fill="#0a0a0a"/>
<text x="480.7" y="244.6" font-size="12" stroke-width="0.264" text-anchor="end" fill="#111" >0</text>
<text x="480.7" y="205.46" font-size="12" stroke-width="0.264" text-anchor="end" fill="#111" >25</text>
<text x="480.7" y="166.32" font-size="12" stroke-width="0.264" text-anchor="end" fill="#111" >50</text>
<text x="480.7" y="127.18" font-size="12" stroke-width="0.264" text-anchor="end" fill="#111" >75</text>
<text x="480.7" y="88.04" font-size="12" stroke-width="0.264" text-anchor="end" fill="#111" >100</text>
<text x="480.7" y="48.9" font-size="12" stroke-width="0.264" text-anchor="end" fill="#111" >125</text>
<text x="487.40000000000003" y="259.1" font-size="12" stroke-width="0.264" text-anchor="middle" fill="#111" >0</text>
<text x="574.1" y="259.1" font-size="12" stroke-width="0.264" text-anchor="middle" fill="#111" >5</text>
<text x="660.8000000000001" y="259.1" font-size="12" stroke-width="0.264" text-anchor="middle" fill="#111" >10</text>
<text x="747.5" y="259.1" font-size="12" stroke-width="0.264" text-anchor="middle" fill="#111" >15</text>
<text x="619" y="275.8" font-size="11.6" stroke-width="0.255" text-anchor="middle" fill="#111" >Time after Etopside (min)</text>
<text transform="translate(448.6,144) rotate(-90)" font-size="11.7" stroke-width="0.25" text-anchor="middle" fill="#111">Relative RPA binding</text>
<text transform="translate(460,145) rotate(-90)" font-size="11.6" stroke-width="0.25" text-anchor="middle" fill="#111">a.u.</text>
<path d="M498.6,19.6 H520.5" stroke="#0a0a0a" stroke-width="2.2"/>
<circle cx="509.4" cy="19.6" r="3.2" fill="#0a0a0a"/>
<text x="525" y="23.9" font-size="11.55" stroke-width="0.254" text-anchor="start" fill="#111" >&#916;Mock PflMI</text>
<path d="M498.6,34.1 H520.5" stroke="#0a0a0a" stroke-width="1.6" stroke-dasharray="3.4,1.6"/>
<rect x="506.1" y="30.900000000000002" width="6.5" height="6.5" fill="#0a0a0a"/>
<text x="525" y="38.1" font-size="11.55" stroke-width="0.254" text-anchor="start" fill="#111" >&#916;Mock Etop.</text>
<path d="M498.6,48.7 H520.5" stroke="#d7171d" stroke-width="2.2"/>
<circle cx="509.4" cy="48.7" r="3.2" fill="#d7171d"/>
<text x="525" y="52.7" font-size="11.55" stroke-width="0.254" text-anchor="start" fill="#111" >&#916;CtIP PflMI</text>
<path d="M498.6,62.4 H520.5" stroke="#d7171d" stroke-width="1.6" stroke-dasharray="3.4,1.6"/>
<rect x="506.1" y="59.199999999999996" width="6.5" height="6.5" fill="#d7171d"/>
<text x="525" y="66.4" font-size="11.55" stroke-width="0.254" text-anchor="start" fill="#111" >&#916;CtIP Etop.</text>
</svg>
</body></html>
